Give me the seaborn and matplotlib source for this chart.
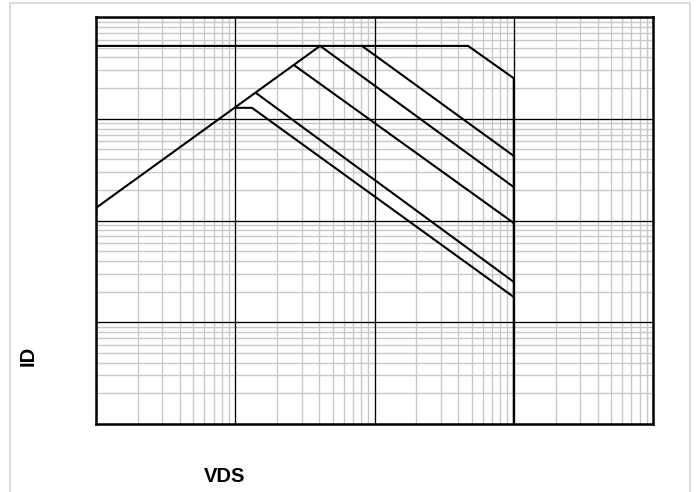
import matplotlib
matplotlib.use('Agg')
import matplotlib.pyplot as plt
import seaborn as sns
from matplotlib.patches import Rectangle

# Safe operating area data (VDS in V, ID in A)
limit_x = [0.1, 47, 100, 100]
limit_y = [52, 52, 25, 0.01]

rds_x = [0.1, 4.07]
rds_y = [1.33, 52]

pulse_a_x = [1.0, 1.32, 100]
pulse_a_y = [12.8, 12.8, 0.177]
pulse_b_x = [1.41, 100]
pulse_b_y = [17.9, 0.249]
pulse_c_x = [2.64, 100]
pulse_c_y = [33.7, 0.944]
pulse_d_x = [4.07, 100]
pulse_d_y = [52, 2.13]
pulse_e_x = [8.13, 100]
pulse_e_y = [52, 4.31]

x_range = [0.1, 1000]
y_range = [0.01, 100]
x_decades = [1, 10, 100]
y_decades = [0.1, 1, 10]

sns.set_style('white')
plt.rcParams['font.family'] = ['Liberation Sans', 'DejaVu Sans']

fig = plt.figure(figsize=(6.97, 4.92), dpi=100)
ax = fig.add_axes([96 / 697, 1 - 424 / 492, 557 / 697, 407 / 492])

curves = [
    (limit_x, limit_y),
    (rds_x, rds_y),
    (pulse_a_x, pulse_a_y),
    (pulse_b_x, pulse_b_y),
    (pulse_c_x, pulse_c_y),
    (pulse_d_x, pulse_d_y),
    (pulse_e_x, pulse_e_y),
]
for cx, cy in curves:
    sns.lineplot(x=cx, y=cy, ax=ax, sort=False, estimator=None,
                 color='black', lw=1.5, zorder=5)

ax.set_xscale('log')
ax.set_yscale('log')
ax.set_xlim(x_range)
ax.set_ylim(y_range)

# grid: light grey for every minor step, thin black decades on top of it
ax.grid(which='minor', color='#c8c8c8', lw=1.0)
ax.grid(which='major', color='#c8c8c8', lw=1.0)
ax.set_axisbelow(True)
for xv in x_decades:
    ax.axvline(xv, color='black', lw=0.9, zorder=2)
for yv in y_decades:
    ax.axhline(yv, color='black', lw=0.9, zorder=2)

ax.tick_params(which='both', length=0, labelbottom=False, labelleft=False)
for s in ax.spines.values():
    s.set_color('black')
    s.set_linewidth(1.8)
    s.set_zorder(6)

ax.set_xlabel('')
ax.set_ylabel('')
fig.text(225 / 697, 1 - 476 / 492, 'VDS', ha='center', va='center',
         fontsize=14.5, fontweight='bold', color='black')
fig.text(28 / 697, 1 - 356 / 492, 'ID', ha='center', va='center',
         fontsize=14.5, fontweight='bold', rotation=90, color='black')

# light frame around the picture
fig.patches.append(Rectangle((9.5 / 697, -0.1), 680 / 697, 1.1 - 2.5 / 492,
                             transform=fig.transFigure, fill=False,
                             edgecolor='#d4d4d4', lw=1.2))

fig.savefig('out.png', dpi=100)
